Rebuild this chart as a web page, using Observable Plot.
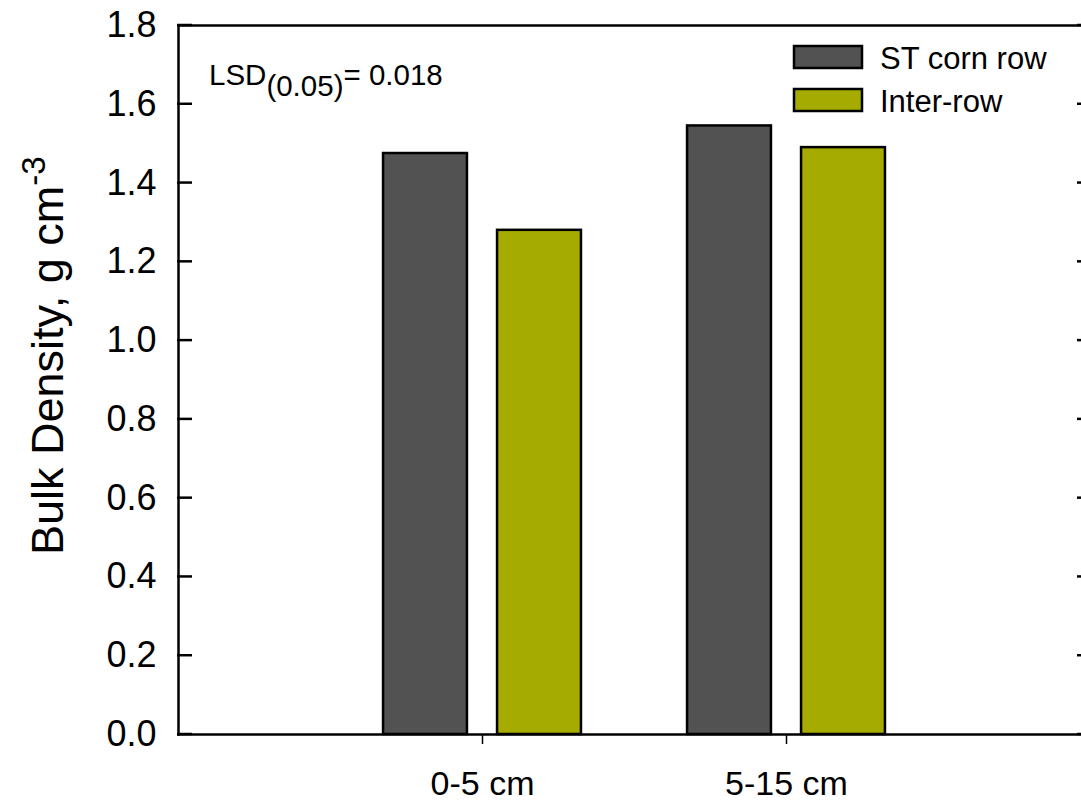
<!DOCTYPE html>
<html>
<head>
<meta charset="utf-8">
<script src="https://cdn.jsdelivr.net/npm/d3@7"></script>
<script src="https://cdn.jsdelivr.net/npm/@observablehq/plot@0.6"></script>
<style>
  html, body { margin: 0; padding: 0; background: #fff; overflow: hidden; }
  #chart { position: relative; width: 1081px; height: 804px; }
</style>
</head>
<body>
<div id="chart"></div>
<script>
const depths = ["0-5 cm", "5-15 cm"];
const seriesNames = ["ST corn row", "Inter-row"];
const stCornRow = [1.475, 1.545];
const interRow = [1.28, 1.49];
const yTicks = [0, 0.2, 0.4, 0.6, 0.8, 1.0, 1.2, 1.4, 1.6, 1.8];
const seriesColors = ["#525252", "#a6ab00"];
const lsdText = { main: "LSD", sub: "(0.05)", rest: "= 0.018" };

const data = [
  ...depths.map((d, i) => ({depth: d, series: seriesNames[0], value: stCornRow[i]})),
  ...depths.map((d, i) => ({depth: d, series: seriesNames[1], value: interRow[i]}))
];

const font = "'Liberation Sans', Arial, sans-serif";
const marginLeft = 178, marginRight = -9, width = 1081;

const plot = Plot.plot({
  width,
  height: 804,
  marginLeft,
  marginRight,
  marginTop: 25,
  marginBottom: 70,
  style: {fontFamily: font, background: "#fff", overflow: "hidden"},
  x: {type: "band", domain: depths, paddingInner: 0.349, paddingOuter: 0.6745, round: false},
  y: {domain: [0, 1.8]},
  marks: [
    Plot.barY(data.filter(d => d.series === seriesNames[0]), {
      x: "depth", y: "value", fill: seriesColors[0], stroke: "black", strokeWidth: 2.5, insetRight: 114
    }),
    Plot.barY(data.filter(d => d.series === seriesNames[1]), {
      x: "depth", y: "value", fill: seriesColors[1], stroke: "black", strokeWidth: 2.5, insetLeft: 114
    }),
    Plot.frame({anchor: "left", stroke: "black", strokeWidth: 2.5}),
    Plot.frame({anchor: "top", stroke: "black", strokeWidth: 2.5}),
    Plot.frame({anchor: "bottom", stroke: "black", strokeWidth: 2.5}),
    Plot.frame({anchor: "right", stroke: "black", strokeWidth: 2.5}),
    Plot.axisY({ticks: yTicks, anchor: "left", tickSize: 0, tickPadding: 22, tickFormat: d3.format(".1f"), fontSize: 36, fill: "black", label: null}),
    Plot.axisX({tickSize: 10, strokeWidth: 1.5, tickPadding: 26, fontSize: 34, fill: "black", label: null})
  ]
});

const svg = d3.select(plot);
const yScale = plot.scale("y");

// Y axis title with superscript
const yl = svg.append("text")
  .attr("transform", "translate(63,555) rotate(-90)")
  .attr("text-anchor", "start")
  .attr("font-family", font)
  .attr("font-size", 45)
  .attr("fill", "black");
yl.append("tspan").text("Bulk Density, g cm");
yl.append("tspan").attr("dy", -18).attr("font-size", 33).text("-3");

// LSD annotation
const lsd = svg.append("text")
  .attr("x", 209).attr("y", 85)
  .attr("text-anchor", "start")
  .attr("font-family", font)
  .attr("font-size", 29.5)
  .attr("fill", "black");
lsd.append("tspan").text(lsdText.main);
lsd.append("tspan").attr("dy", 11).text(lsdText.sub);
lsd.append("tspan").attr("dy", -11).text(lsdText.rest);

// Legend
const legendRows = [{y: 46}, {y: 89}];
seriesNames.forEach((name, i) => {
  const g = svg.append("g");
  g.append("rect")
    .attr("x", 794).attr("y", legendRows[i].y)
    .attr("width", 68).attr("height", 22)
    .attr("fill", seriesColors[i]).attr("stroke", "black").attr("stroke-width", 2.5);
  g.append("text")
    .attr("x", 880).attr("y", legendRows[i].y + 23)
    .attr("text-anchor", "start")
    .attr("font-family", font).attr("font-size", 31).attr("fill", "black")
    .text(name);
});

// Inward tick marks on the left and right axes, placed with Plot's y scale (drawn last, on top)
const tickG = svg.append("g");
yTicks.forEach(t => {
  const py = yScale.apply(t);
  tickG.append("line").attr("stroke", "#000").attr("stroke-width", 2.5).attr("stroke-linecap", "butt")
    .attr("x1", marginLeft - 1).attr("x2", marginLeft + 14).attr("y1", py).attr("y2", py);
  tickG.append("line").attr("stroke", "#000").attr("stroke-width", 2.5).attr("stroke-linecap", "butt")
    .attr("x1", width - marginRight).attr("x2", width - marginRight - 13).attr("y1", py).attr("y2", py);
});

document.getElementById("chart").appendChild(plot);
</script>
</body>
</html>
